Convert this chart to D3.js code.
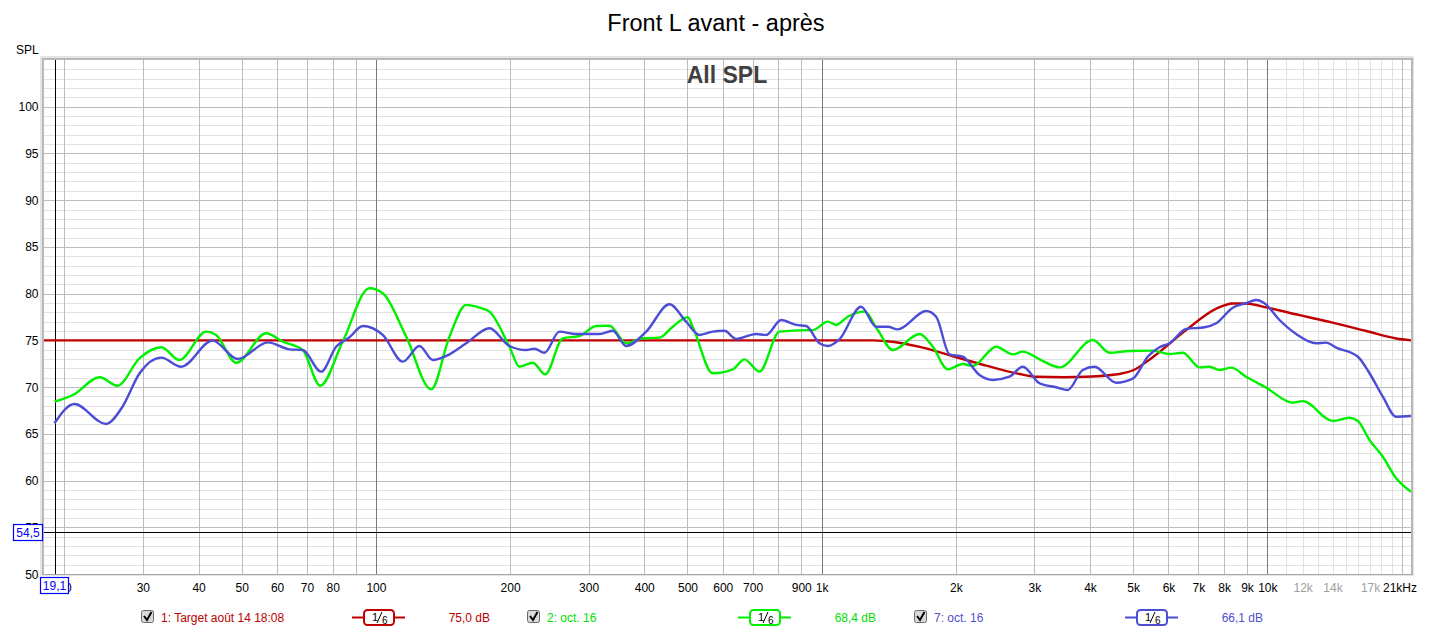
<!DOCTYPE html>
<html>
<head>
<meta charset="utf-8">
<script src="https://cdn.jsdelivr.net/npm/d3@7"></script>
<style>
  body { margin: 0; background: #fff; }
  svg { display: block; font-family: "Liberation Sans", Arial, sans-serif; }
</style>
</head>
<body>
<div id="chart"></div>
<script>
// traces: [frequency Hz, SPL dB]
const target = [
  [18, 75], [1000, 75], [1300, 75], [1400, 74.9], [1660, 74.3], [1970, 73.3],
  [2340, 72.3], [2780, 71.4], [3030, 71.1], [3500, 71.05], [3920, 71.1],
  [4660, 71.4], [5000, 71.8], [5530, 73.2], [6570, 76.1], [7680, 78.4],
  [8360, 78.95], [8960, 78.95], [10000, 78.5], [11800, 77.7], [14000, 76.9],
  [16660, 76.0], [19450, 75.2], [21000, 75.0]
];
const octGreen = [
  [19, 68.44], [20.9, 69.15], [24, 71.05], [26.3, 70.15], [29.5, 73.1],
  [33, 74.26], [36.2, 72.9], [41.6, 75.93], [43.8, 75.58], [48.6, 72.6], [56.7, 75.76],
  [61.8, 74.86], [68.5, 73.97], [75, 70.15], [84.2, 74.86], [96.7, 80.57], [103.6, 80.04],
  [116.9, 75.4], [133, 69.76], [146.2, 75.4], [159.4, 78.8], [170.7, 78.5], [179.8, 78.07],
  [199.3, 74.32], [209.9, 72.18], [224.8, 72.61], [239.7, 71.37], [262.5, 75.22],
  [286.2, 75.47], [312, 76.54], [334.1, 76.57], [364.2, 74.69], [396.8, 75.22],
  [432.6, 75.29], [463.4, 76.46], [500.6, 77.47], [513.7, 76.46], [569.6, 71.48],
  [631.8, 71.9], [671.1, 72.97], [725.3, 71.65], [804.2, 75.93], [923, 76.1], [955, 76.1],
  [1032, 77.0], [1078, 76.65], [1144, 77.53], [1247, 78.07], [1336, 76.1], [1444, 73.97],
  [1658, 75.68], [1776, 74.32], [1918, 71.9], [2073, 72.47], [2183, 72.26], [2463, 74.32],
  [2684, 73.5], [2826, 73.79], [3082, 72.97], [3417, 72.11], [4058, 75.04], [4424, 73.68],
  [4905, 73.86], [5534, 73.9], [6032, 73.54], [6461, 73.68], [7044, 72.11], [7417, 72.18],
  [7811, 71.83], [8298, 72.08], [8962, 71.1], [9938, 69.94], [11400, 68.33], [12010, 68.5],
  [14025, 66.37], [15285, 66.72], [15960, 66.37], [16950, 64.34], [18155, 62.55],
  [19454, 60.24], [21000, 58.81]
];
const octBlue = [
  [19, 66.13], [21.06, 68.19], [24.8, 66.05], [27, 67.9], [29.5, 71.48],
  [33, 73.15], [36.55, 72.18], [43, 74.97], [49, 73.0], [57.2, 74.79], [64, 74.04],
  [68.5, 73.97], [75.35, 71.65], [81.4, 74.32], [87.2, 75.33], [93.4, 76.54], [103.6, 75.58],
  [114.9, 72.72], [125.2, 74.4], [134.1, 72.9], [143.7, 73.33], [159.4, 74.69], [179.8, 76.3],
  [199.3, 74.4], [217.3, 73.97], [226.8, 74.11], [238.8, 73.68], [258, 75.93], [281.3, 75.68],
  [317.3, 75.68], [339.9, 76.03], [364.2, 74.4], [403.9, 75.93], [455.6, 78.86], [496.6, 77.0],
  [531.8, 75.58], [569.6, 75.93], [605.2, 76.03], [643, 75.15], [713.1, 75.68], [750.7, 75.58],
  [811.3, 77.18], [876.6, 76.65], [923.2, 76.54], [989, 74.69], [1032, 74.4], [1096, 75.11],
  [1226, 78.6], [1325, 76.46], [1407, 76.46], [1482, 76.18], [1716, 78.14], [1807, 77.53],
  [1936, 73.5], [2073, 73.25], [2260, 71.29], [2420, 70.76], [2638, 71.11], [2826, 72.18],
  [3082, 70.41], [3359, 69.98], [3566, 69.69], [3852, 71.83], [4094, 72.18], [4579, 70.47],
  [4989, 70.9], [5400, 73.3], [5727, 74.26], [6032, 74.69], [6574, 76.22], [7228, 76.4],
  [7677, 76.83], [8363, 78.5], [8962, 78.97], [9438, 79.32], [9851, 78.97], [10646, 77.18],
  [11605, 75.68], [12867, 74.69], [13548, 74.76], [14267, 74.22], [15960, 73.25],
  [16950, 71.48], [18155, 68.97], [19454, 66.83], [21000, 66.9]
];

const splTicks = [50, 55, 60, 65, 70, 75, 80, 85, 90, 95, 100];
const freqGrid = [20, 30, 40, 50, 60, 70, 80, 90, 100, 200, 300, 400, 500, 600, 700, 800, 900,
  1000, 2000, 3000, 4000, 5000, 6000, 7000, 8000, 9000, 10000, 20000];
const freqFine = [11000, 12000, 13000, 14000, 15000, 16000, 17000, 18000, 19000];
const decades = [100, 1000, 10000];
const freqLabels = [[20, "20"], [30, "30"], [40, "40"], [50, "50"], [60, "60"], [70, "70"],
  [80, "80"], [100, "100"], [200, "200"], [300, "300"], [400, "400"], [500, "500"],
  [600, "600"], [700, "700"], [900, "900"], [1000, "1k"], [2000, "2k"], [3000, "3k"],
  [4000, "4k"], [5000, "5k"], [6000, "6k"], [7000, "7k"], [8000, "8k"], [9000, "9k"],
  [10000, "10k"]];
const freqLabelsGrey = [[12000, "12k"], [14000, "14k"], [17000, "17k"]];

const series = [
  { name: "1: Target août 14 18:08", data: target, color: "#c00000", text: "#bb0000", value: "75,0 dB" },
  { name: "2: oct. 16", data: octGreen, color: "#00f000", text: "#00e000", value: "68,4 dB" },
  { name: "7: oct. 16", data: octBlue, color: "#4c4cd6", text: "#5050d0", value: "66,1 dB" }
];
const cursorFreq = 19.1, cursorSpl = 54.5;

const W = 1433, H = 632;
const PLOT = { left: 44, right: 1411, top: 60, bottom: 574 };

const svg = d3.select("#chart").append("svg")
  .attr("width", W).attr("height", H);

const x = d3.scaleLog().domain([18, 21000]).range([PLOT.left, PLOT.right]);
const y = d3.scaleLinear().domain([50, 105]).range([PLOT.bottom, PLOT.top]);

const defs = svg.append("defs");
defs.append("clipPath").attr("id", "clip")
  .append("rect").attr("x", PLOT.left).attr("y", PLOT.top)
  .attr("width", PLOT.right - PLOT.left).attr("height", PLOT.bottom - PLOT.top);

// frame with sunken shadow
svg.append("rect").attr("x", PLOT.left - 4).attr("y", PLOT.top - 4)
  .attr("width", PLOT.right - PLOT.left + 7).attr("height", PLOT.bottom - PLOT.top + 6)
  .attr("fill", "#e4e4e4");
svg.append("rect").attr("x", PLOT.left - 2).attr("y", PLOT.top - 2)
  .attr("width", PLOT.right - PLOT.left + 4).attr("height", PLOT.bottom - PLOT.top + 3)
  .attr("fill", "#b8b8b8");
svg.append("rect").attr("x", PLOT.left).attr("y", PLOT.top)
  .attr("width", PLOT.right - PLOT.left).attr("height", PLOT.bottom - PLOT.top)
  .attr("fill", "#fff");

const grid = svg.append("g").attr("shape-rendering", "crispEdges");

// 1 dB minor lines
grid.selectAll(".hmin").data(d3.range(51, 105)).enter().append("line")
  .attr("x1", PLOT.left).attr("x2", PLOT.right)
  .attr("y1", d => Math.round(y(d)) + 0.5).attr("y2", d => Math.round(y(d)) + 0.5)
  .attr("stroke", "#e2e2e2");
grid.selectAll(".vfine").data(freqFine).enter().append("line")
  .attr("y1", PLOT.top).attr("y2", PLOT.bottom)
  .attr("x1", d => Math.round(x(d)) + 0.5).attr("x2", d => Math.round(x(d)) + 0.5)
  .attr("stroke", "#e2e2e2");
grid.selectAll(".hmaj").data(splTicks).enter().append("line")
  .attr("x1", PLOT.left).attr("x2", PLOT.right)
  .attr("y1", d => Math.round(y(d)) + 0.5).attr("y2", d => Math.round(y(d)) + 0.5)
  .attr("stroke", "#bdbdbd");
grid.selectAll(".vmaj").data(freqGrid).enter().append("line")
  .attr("y1", PLOT.top).attr("y2", PLOT.bottom)
  .attr("x1", d => Math.round(x(d)) + 0.5).attr("x2", d => Math.round(x(d)) + 0.5)
  .attr("stroke", d => decades.includes(d) ? "#7a7a7a" : "#bdbdbd");

// cursor lines
grid.append("line").attr("x1", PLOT.left).attr("x2", PLOT.right)
  .attr("y1", Math.round(y(cursorSpl)) + 0.5).attr("y2", Math.round(y(cursorSpl)) + 0.5)
  .attr("stroke", "#000");
grid.append("line").attr("y1", PLOT.top).attr("y2", PLOT.bottom)
  .attr("x1", Math.round(x(cursorFreq)) + 0.5).attr("x2", Math.round(x(cursorFreq)) + 0.5)
  .attr("stroke", "#000");

grid.append("line").attr("x1", PLOT.left).attr("x2", PLOT.right + 1)
  .attr("y1", PLOT.bottom + 0.5).attr("y2", PLOT.bottom + 0.5).attr("stroke", "#a8a8a8");

// traces
const line = d3.line()
  .x(d => x(d[0])).y(d => y(d[1]))
  .curve(d3.curveMonotoneX);

svg.append("g").attr("clip-path", "url(#clip)")
  .selectAll("path").data(series).enter().append("path")
  .attr("d", d => line(d.data))
  .attr("fill", "none")
  .attr("stroke", d => d.color)
  .attr("stroke-width", 2.4)
  .attr("stroke-linejoin", "round");

// titles
svg.append("text").attr("x", 716).attr("y", 31).attr("text-anchor", "middle")
  .attr("font-size", 23.5).attr("fill", "#000").text("Front L avant - après");
svg.append("text").attr("x", 727).attr("y", 83).attr("text-anchor", "middle")
  .attr("font-size", 23).attr("font-weight", "bold").attr("fill", "#404040").text("All SPL");
svg.append("text").attr("x", 16).attr("y", 54).attr("font-size", 12).text("SPL");

// y tick labels
svg.append("g").selectAll("text").data(splTicks).enter().append("text")
  .attr("x", 38.5).attr("y", d => y(d) + 4.5)
  .attr("text-anchor", "end").attr("font-size", 12).attr("fill", "#000")
  .text(d => d);

// x tick labels
const xl = svg.append("g").attr("font-size", 12).attr("text-anchor", "middle");
xl.selectAll(".lab").data(freqLabels).enter().append("text")
  .attr("x", d => x(d[0]) + 0.5).attr("y", 592).attr("fill", "#000").text(d => d[1]);
xl.selectAll(".labg").data(freqLabelsGrey).enter().append("text")
  .attr("x", d => x(d[0]) + 0.5).attr("y", 592).attr("fill", "#a0a0a0").text(d => d[1]);
xl.append("text").attr("x", x(21000) + 6).attr("y", 592).attr("text-anchor", "end")
  .attr("fill", "#000").text("21kHz");

// cursor value boxes
function cursorBox(cx, cy, w, label) {
  const g = svg.append("g");
  g.append("rect").attr("x", cx).attr("y", cy).attr("width", w).attr("height", 16)
    .attr("fill", "#fff").attr("stroke", "#0000ff").attr("stroke-width", 1.2);
  g.append("text").attr("x", cx + w / 2).attr("y", cy + 12.5).attr("text-anchor", "middle")
    .attr("font-size", 12).attr("fill", "#0000ff").text(label);
}
cursorBox(13.5, Math.round(y(cursorSpl)) - 7.5, 29, "54,5");
cursorBox(40.5, 577.5, 28, "19,1");

// legend
const legendX = [141, 527, 914];
const lg = svg.append("g").selectAll("g").data(series).enter().append("g")
  .attr("transform", (d, i) => `translate(${legendX[i]},0)`);

lg.append("rect").attr("x", 0.5).attr("y", 610.5).attr("width", 12).attr("height", 12)
  .attr("rx", 2).attr("fill", "#d9d9d9").attr("stroke", "#6a6a6a");
lg.append("path").attr("d", "M3,616 L6,620 L10.5,612")
  .attr("fill", "none").attr("stroke", "#000").attr("stroke-width", 2);
lg.append("text").attr("x", 20).attr("y", 621.5).attr("font-size", 12)
  .attr("fill", d => d.text).text(d => d.name);

lg.append("line").attr("x1", 211).attr("x2", 264).attr("y1", 617.5).attr("y2", 617.5)
  .attr("stroke", d => d.color).attr("stroke-width", 2);
lg.append("rect").attr("x", 223).attr("y", 610).attr("width", 30).attr("height", 15)
  .attr("rx", 3.5).attr("fill", "#fff").attr("stroke", d => d.color).attr("stroke-width", 2);
lg.append("text").attr("x", 231).attr("y", 621).attr("font-size", 11).attr("fill", "#000").text("1");
lg.append("line").attr("x1", 236).attr("y1", 623).attr("x2", 241).attr("y2", 612)
  .attr("stroke", "#000").attr("stroke-width", 1);
lg.append("text").attr("x", 241).attr("y", 624).attr("font-size", 10).attr("fill", "#000").text("6");

lg.append("text").attr("x", 349).attr("y", 621.5).attr("text-anchor", "end").attr("font-size", 12)
  .attr("fill", d => d.text).text(d => d.value);
</script>
</body>
</html>
